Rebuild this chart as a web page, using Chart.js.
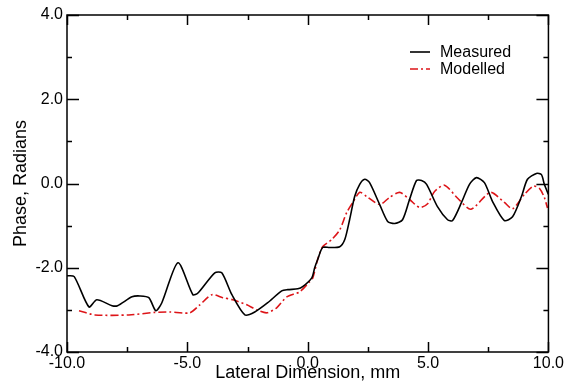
<!DOCTYPE html>
<html>
<head>
<meta charset="utf-8">
<script src="https://cdn.jsdelivr.net/npm/chart.js@4.4.1/dist/chart.umd.min.js"></script>
<style>
html,body{margin:0;padding:0;background:#fff;}
#wrap{width:566px;height:392px;position:relative;}
</style>
</head>
<body>
<div id="wrap"><canvas id="c" width="566" height="392"></canvas></div>
<script>
// Data
const measuredX = [-10.0, -9.7, -9.09, -8.76, -8.13, -7.9, -7.3, -6.97, -6.6, -6.31, -6.06, -5.39, -4.77, -4.56, -3.86, -3.57, -3.15, -2.61, -2.2, -1.66, -1.08, -0.83, -0.41, -0.21, 0.17, 0.29, 0.41, 0.62, 0.91, 1.33, 1.54, 1.74, 1.95, 2.16, 2.37, 2.57, 2.99, 3.32, 3.61, 3.94, 4.23, 4.52, 4.73, 4.94, 5.39, 5.81, 6.02, 6.39, 6.72, 7.01, 7.34, 7.68, 8.17, 8.51, 8.88, 9.13, 9.5, 9.71, 9.83, 10.0];
const measuredY = [-2.19, -2.21, -2.93, -2.76, -2.90, -2.90, -2.69, -2.67, -2.71, -3.02, -2.83, -1.88, -2.64, -2.60, -2.12, -2.12, -2.64, -3.12, -3.05, -2.83, -2.55, -2.52, -2.50, -2.45, -2.24, -2.0, -1.81, -1.52, -1.52, -1.50, -1.33, -0.86, -0.31, -0.02, 0.10, 0.02, -0.50, -0.90, -0.95, -0.86, -0.38, 0.07, 0.07, -0.02, -0.55, -0.86, -0.88, -0.45, -0.02, 0.14, 0.02, -0.43, -0.88, -0.79, -0.31, 0.10, 0.24, 0.21, -0.02, -0.26];
const modelledX = [-9.5, -8.84, -7.43, -6.35, -5.73, -4.9, -4.48, -3.98, -3.53, -3.11, -2.53, -2.12, -1.70, -1.29, -0.87, -0.33, 0.08, 0.21, 0.41, 0.62, 1.0, 1.33, 1.62, 1.87, 2.16, 2.45, 2.99, 3.40, 3.82, 4.23, 4.65, 4.98, 5.27, 5.68, 6.23, 6.78, 7.59, 8.17, 8.51, 9.0, 9.38, 9.63, 9.83, 9.96];
const modelledY = [-3.02, -3.12, -3.12, -3.06, -3.05, -3.07, -2.88, -2.64, -2.71, -2.76, -2.88, -3.0, -3.07, -2.95, -2.69, -2.57, -2.33, -2.24, -1.81, -1.50, -1.33, -1.10, -0.69, -0.45, -0.21, -0.31, -0.50, -0.33, -0.21, -0.38, -0.57, -0.48, -0.19, -0.04, -0.35, -0.61, -0.21, -0.45, -0.60, -0.26, -0.06, -0.12, -0.33, -0.58];
const seriesNames = ["Measured", "Modelled"];
const xTitle = "Lateral Dimension, mm";
const yTitle = "Phase, Radians";

const FONT = "'Liberation Sans', Arial, Helvetica, sans-serif";

const framePlugin = {
  id: 'frame',
  afterDatasetsDraw(chart) {
    const ctx = chart.ctx, a = chart.chartArea;
    const xs = chart.scales.x, ys = chart.scales.y;
    ctx.save();
    ctx.strokeStyle = '#000';
    ctx.lineWidth = 1.5;
    ctx.strokeRect(a.left, a.top, a.right - a.left, a.bottom - a.top);
    ctx.beginPath();
    // x ticks (bottom & top), inward
    for (let v = -10; v <= 10.001; v += 2.5) {
      const px = Math.round(xs.getPixelForValue(v)) + 0.5;
      const major = Math.abs(v % 5) < 1e-6;
      const len = major ? 10 : 5;
      ctx.moveTo(px, a.bottom); ctx.lineTo(px, a.bottom - len);
      ctx.moveTo(px, a.top); ctx.lineTo(px, a.top + len);
    }
    // y ticks (left & right), inward
    for (let v = -4; v <= 4.001; v += 1) {
      const py = Math.round(ys.getPixelForValue(v)) + 0.5;
      const major = Math.abs(v % 2) < 1e-6;
      const len = major ? 12 : 5;
      ctx.moveTo(a.left, py); ctx.lineTo(a.left + len, py);
      ctx.moveTo(a.right, py); ctx.lineTo(a.right - len, py);
    }
    ctx.stroke();

    // legend
    const ds = chart.data.datasets;
    const lx0 = 410, lx1 = 430, tx = 440;
    const rows = [52, 69];
    ctx.font = '16px ' + FONT;
    ctx.textBaseline = 'middle';
    ctx.textAlign = 'left';
    ds.forEach((d, i) => {
      ctx.beginPath();
      ctx.strokeStyle = d.borderColor;
      ctx.lineWidth = d.borderWidth;
      ctx.setLineDash(d.borderDash || []);
      ctx.moveTo(lx0, rows[i]); ctx.lineTo(lx1, rows[i]);
      ctx.stroke();
      ctx.setLineDash([]);
      ctx.fillStyle = '#000';
      ctx.fillText(d.label, tx, rows[i] + 1);
    });
    ctx.restore();
  }
};

const ctx = document.getElementById('c').getContext('2d');
new Chart(ctx, {
  type: 'line',
  data: {
    datasets: [
      {
        label: seriesNames[0],
        data: measuredX.map((x, i) => ({x: x, y: measuredY[i]})),
        borderColor: '#000000',
        borderWidth: 1.6,
        pointRadius: 0,
        tension: 0.25,
        fill: false
      },
      {
        label: seriesNames[1],
        data: modelledX.map((x, i) => ({x: x, y: modelledY[i]})),
        borderColor: '#dd1418',
        borderWidth: 1.6,
        borderDash: [8, 3, 2, 3],
        pointRadius: 0,
        tension: 0.25,
        fill: false
      }
    ]
  },
  options: {
    responsive: false,
    animation: false,
    devicePixelRatio: 1,
    layout: { padding: { top: 15, right: 17, left: 0, bottom: 0 } },
    plugins: { legend: { display: false }, tooltip: { enabled: false } },
    scales: {
      x: {
        type: 'linear', min: -10, max: 10,
        grid: { display: false, drawTicks: false },
        border: { display: false },
        ticks: {
          stepSize: 5, color: '#000', padding: 2,
          font: { family: FONT, size: 16 },
          callback: v => Number(v).toFixed(1),
          maxRotation: 0
        },
        title: { display: true, text: xTitle, color: '#000', font: { family: FONT, size: 18 }, padding: { top: 0, bottom: 8 } },
        afterFit: s => { s.height = 40; }
      },
      y: {
        type: 'linear', min: -4, max: 4,
        grid: { display: false, drawTicks: false },
        border: { display: false },
        ticks: {
          stepSize: 2, color: '#000', padding: 4,
          font: { family: FONT, size: 16 },
          callback: v => Number(v).toFixed(1)
        },
        title: { display: true, text: yTitle, color: '#000', font: { family: FONT, size: 18 }, padding: { top: 10, bottom: 0 } },
        afterFit: s => { s.width = 67; }
      }
    }
  },
  plugins: [framePlugin]
});
</script>
</body>
</html>
